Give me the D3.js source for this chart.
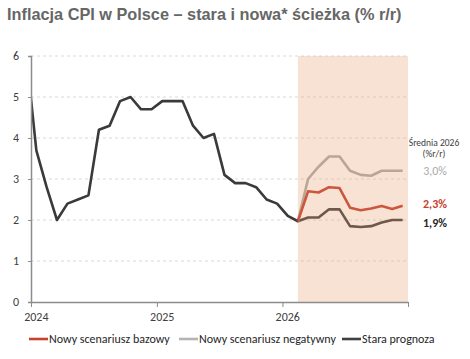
<!DOCTYPE html>
<html><head><meta charset="utf-8">
<script src="https://cdn.jsdelivr.net/npm/d3@7"></script>
<style>
body{margin:0;background:#fff;}
svg{display:block;}
</style></head>
<body>
<svg id="c" width="470" height="359"></svg>
<script>
// ---- data ----
const title = "Inflacja CPI w Polsce – stara i nowa* ścieżka (% r/r)";
const yTicks = [0,1,2,3,4,5,6];
const xTickYears = [2024, 2025, 2026];
// monthly series, starting Dec 2023
const oldStart = [2023, 11];
const oldValues = [6.2,
  3.7, 2.8, 2.0, 2.4, 2.5, 2.6, 4.2, 4.3, 4.9, 5.0, 4.7, 4.7,
  4.9, 4.9, 4.9, 4.3, 4.0, 4.1, 3.1, 2.9, 2.9, 2.8, 2.5, 2.4,
  2.1, 1.97, 2.06, 2.06, 2.26, 2.26, 1.85, 1.83, 1.85, 1.94, 2.0, 2.0];
// new scenarios, starting Feb 2026
const newStart = [2026, 1];
const baseValues = [1.97, 2.7, 2.67, 2.8, 2.78, 2.3, 2.24, 2.28, 2.34, 2.27, 2.35];
const negValues  = [1.97, 3.0, 3.3, 3.55, 3.55, 3.2, 3.1, 3.08, 3.2, 3.2, 3.2];
const seriesNames = ["Nowy scenariusz bazowy", "Nowy scenariusz negatywny", "Stara prognoza"];
const avgTitle = ["Średnia 2026", "(%r/r)"];
const avgLabels = ["3,0%", "2,3%", "1,9%"];

// ---- helpers ----
function midMonth(y, m){ const a = new Date(y, m, 1), b = new Date(y, m+1, 1); return new Date((+a + +b)/2); }
function toPts(start, vals){ return vals.map((v,i)=>({d: midMonth(start[0], start[1]+i), v})); }
const oldPts = toPts(oldStart, oldValues);
const basePts = toPts(newStart, baseValues);
const negPts = toPts(newStart, negValues);

const colRed = "#c0392b", colGray = "#a8a8a8", colDark = "#3a3a3a";
const font = "Carlito, Calibri, Lato, sans-serif";

const svg = d3.select("#c");
const x = d3.scaleTime().domain([new Date(2024,0,1), new Date(2027,0,1)]).range([31, 408]);
const y = d3.scaleLinear().domain([0,6]).range([302, 56]);

// title
svg.append("text").attr("x", 7).attr("y", 20)
  .attr("font-family", "Liberation Sans, Arial, sans-serif").attr("font-weight", "bold")
  .attr("font-size", 16.3).attr("fill", "#666666").text(title);

// grid
svg.append("g").selectAll("line").data(yTicks.filter(t=>t>0)).join("line")
  .attr("x1", x.range()[0]).attr("x2", x.range()[1])
  .attr("y1", d=>y(d)).attr("y2", d=>y(d))
  .attr("stroke", "#d9d9d9").attr("stroke-width", 1).attr("stroke-dasharray", "3,3");

// clip for lines
svg.append("defs").append("clipPath").attr("id","plot")
  .append("rect").attr("x", x.range()[0]).attr("y", 0).attr("width", x.range()[1]-x.range()[0]).attr("height", 359);

const line = d3.line().x(d=>x(d.d)).y(d=>y(d.v));
const lg = svg.append("g").attr("clip-path", "url(#plot)");
lg.append("path").datum(oldPts).attr("d", line).attr("fill","none").attr("stroke", colDark).attr("stroke-width", 2.6).attr("stroke-linejoin","round");
lg.append("path").datum(negPts).attr("d", line).attr("fill","none").attr("stroke", colGray).attr("stroke-width", 2.6).attr("stroke-linejoin","round");
lg.append("path").datum(basePts).attr("d", line).attr("fill","none").attr("stroke", colRed).attr("stroke-width", 2.6).attr("stroke-linejoin","round");

// forecast shading (overlay)
svg.append("rect").attr("x", x(basePts[0].d)).attr("y", y(6))
  .attr("width", x.range()[1] - x(basePts[0].d)).attr("height", y(0)-y(6))
  .attr("fill", "#e6a06e").attr("opacity", 0.3);

// axes
const yAxis = d3.axisLeft(y).tickValues(yTicks).tickSize(3).tickPadding(9).tickFormat(d3.format("d"));
const gy = svg.append("g").attr("transform", `translate(${x.range()[0]},0)`).call(yAxis);
gy.select(".domain").attr("stroke", "#8c8c8c").attr("stroke-width", 1.5);
gy.selectAll(".tick line").attr("stroke", "#8c8c8c");
gy.selectAll("text").attr("font-family", font).attr("font-size", 12).attr("fill", "#404040");

const xTickDates = xTickYears.map(yr=>new Date(yr,0,1)).concat([new Date(2027,0,1)]);
const xAxis = d3.axisBottom(x).tickValues(xTickDates).tickSize(5).tickSizeOuter(0).tickFormat(()=>"");
const gx = svg.append("g").attr("transform", `translate(0,${y(0)})`).call(xAxis);
gx.select(".domain").attr("stroke", "#8c8c8c").attr("stroke-width", 1.5);
gx.selectAll(".tick line").attr("stroke", "#8c8c8c");
svg.append("g").selectAll("text").data(xTickYears).join("text")
  .attr("x", d=>x(midMonth(d,0))).attr("y", 321).attr("text-anchor","middle")
  .attr("font-family", font).attr("font-size", 12).attr("fill", "#404040").text(d=>d);

// right annotations
const ax = 434;
svg.append("text").attr("x", ax).attr("y", 146).attr("text-anchor","middle")
  .attr("font-family", font).attr("font-size", 9.5).attr("fill", "#404040").text(avgTitle[0]);
svg.append("text").attr("x", ax).attr("y", 157).attr("text-anchor","middle")
  .attr("font-family", font).attr("font-size", 9.5).attr("fill", "#404040").text(avgTitle[1]);
const annCols = ["#aaaaaa", "#c8402e", "#262626"];
const annY = [175, 208, 227];
avgLabels.forEach((t,i)=>{
  svg.append("text").attr("x", ax+1).attr("y", annY[i]).attr("text-anchor","middle")
    .attr("font-family", font).attr("font-size", 12).attr("font-weight", i===0?"normal":"bold")
    .attr("fill", annCols[i]).text(t);
});

// legend
const legCols = ["#c8402e", "#b4b4b4", "#404040"];
const legX = [29, 179, 342];
const leg = svg.append("g");
seriesNames.forEach((n,i)=>{
  leg.append("line").attr("x1", legX[i]).attr("x2", legX[i]+19).attr("y1", 339).attr("y2", 339)
    .attr("stroke", legCols[i]).attr("stroke-width", 2.6);
  leg.append("text").attr("x", legX[i]+20).attr("y", 343)
    .attr("font-family", font).attr("font-size", 12).attr("fill", "#262626").text(n);
});
</script>
</body></html>
